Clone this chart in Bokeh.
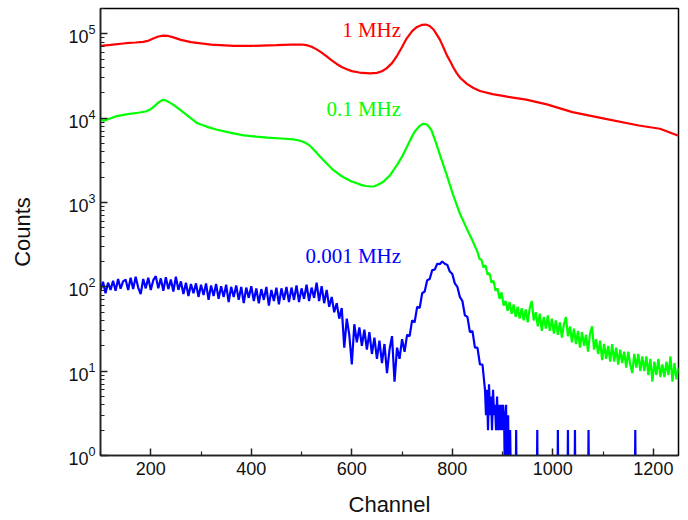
from bokeh.plotting import figure
from bokeh.models import FixedTicker, ColumnDataSource
from bokeh.core.properties import value
from bokeh.embed import file_html
from bokeh.resources import INLINE

# ---------------- data ----------------
x_ticks = [200, 400, 600, 800, 1000, 1200]
x_minor = [100, 300, 500, 700, 900, 1100]
y_ticks = [1, 10, 100, 1000, 10000, 100000]

red_ch = [100, 120, 150, 170, 185, 195, 205, 215, 225, 235, 245, 260, 280, 300, 320,
          365, 400, 450, 480, 500, 510, 520, 530, 540, 550, 560, 570, 580, 590, 600,
          615, 636, 650, 660, 669, 680, 690, 700, 709, 720, 729, 740, 747, 755, 763,
          770, 775, 782, 789, 796, 802, 809, 816, 829, 842, 855, 880, 909, 947, 988,
          1039, 1105, 1171, 1213, 1250]
red_counts = [72000, 74000, 77500, 79000, 80500, 83000, 88000, 93000, 95500, 94500,
              91000, 85000, 80000, 77000, 74500, 72000, 72000, 73500, 74500, 74800,
              73500, 70500, 65500, 60000, 54000, 48500, 44000, 40500, 38000, 36200,
              34800, 34000, 34500, 36000, 39000, 45000, 55000, 70000, 88000, 108000,
              120000, 128000, 129000, 124000, 112000, 96000, 86000, 70000, 56000,
              47000, 40000, 34000, 30000, 25500, 22800, 21000, 19300, 18000, 16600,
              14600, 11800, 9800, 8200, 7500, 6200]

green_ch = [100, 105, 115, 130, 154, 175, 190, 200, 208, 215, 220, 225, 230, 238, 248,
            260, 275, 293, 312, 332, 360, 385, 410, 432, 460, 484, 497, 507, 515, 525,
            537, 550, 564, 580, 592, 600, 610, 620, 628, 636, 644, 650, 662, 676, 690,
            700, 709, 718, 725, 734, 742, 750, 758, 768, 778, 788, 801, 815, 828, 840,
            850, 854, 858, 862, 866, 870, 874, 878, 882, 886, 890, 894, 898, 902, 906,
            910, 914, 918, 922, 926, 930, 934, 938, 942, 946, 950, 954, 958, 962, 966,
            970, 974, 978, 982, 986, 990, 994, 998, 1002, 1006, 1010, 1014, 1018, 1022,
            1026, 1030, 1034, 1038, 1042, 1046, 1050, 1054, 1058, 1062, 1066, 1070,
            1074, 1078, 1082, 1086, 1090, 1094, 1098, 1102, 1106, 1110, 1114, 1118,
            1122, 1126, 1130, 1134, 1138, 1142, 1146, 1150, 1154, 1158, 1162, 1166,
            1170, 1174, 1178, 1182, 1186, 1190, 1194, 1198, 1202, 1206, 1210, 1214,
            1218, 1222, 1226, 1230, 1234, 1238, 1242, 1246, 1250]
green_counts = [10000, 9300, 9700, 10500, 11200, 11600, 12000, 12800, 14000, 15300,
                16100, 16500, 16200, 15300, 14000, 12400, 10500, 8700, 7900, 7300,
                6700, 6250, 6050, 5900, 5750, 5600, 5400, 5150, 4800, 4200,
                3500, 2900, 2400, 2050, 1880, 1780, 1690, 1610, 1570, 1550, 1560, 1600,
                1750, 2100, 2800, 3500, 4500, 5800, 6900, 8000, 8600, 8400, 7300, 5000,
                3300, 2200, 1260, 740, 500, 355,
                260, 215, 210, 170, 180, 140, 145, 112, 118, 90, 96, 72, 86, 60, 68,
                52, 66, 48, 62, 44, 58, 42, 56, 40, 54, 38, 56, 68, 40, 50,
                34, 48, 30, 44, 32, 46, 30, 42, 28, 40, 27, 38, 25, 36,
                44, 26, 34, 22, 32, 21, 30, 19, 29, 20, 27, 17,
                28, 34, 18, 24, 16, 23, 13.5, 21, 14, 20, 13, 21,
                13, 19, 12, 18, 12.5, 17, 11, 17, 12, 9.5, 16, 11,
                16, 10, 15, 10, 15, 9, 14, 7.5, 13, 9, 14, 8.5,
                12, 8.5, 13, 9, 15, 7.5, 12.5, 8, 11]

blue_ch = [100, 105, 110, 115, 120, 125, 130, 135, 140, 145, 150, 155, 160, 165, 170,
           175, 180, 185, 190, 195, 200, 205, 210, 215, 220, 225, 230, 235, 240, 245,
           250, 255, 260, 265, 270, 275, 280, 285, 290, 295, 300, 305, 310, 315, 320,
           325, 330, 335, 340, 345, 350, 355, 360, 365, 370, 375, 380, 385, 390, 395,
           400, 405, 410, 415, 420, 425, 430, 435, 440, 445, 450, 455, 460, 465, 470,
           475, 480, 485, 490, 495, 500, 505, 510, 515, 520, 525, 530, 535, 540, 545,
           550, 555, 560, 565, 570, 575, 580, 585, 590, 595, 600, 605, 610, 615, 620,
           625, 630, 635, 640, 645, 650, 655, 660, 665, 670, 675, 680, 685, 690, 695,
           700, 705, 710, 715, 720, 725, 730, 735, 740, 745, 750, 755, 760, 765, 770,
           775, 780, 785, 790, 795, 800, 805, 810, 815, 820, 825, 830, 835, 840, 845,
           850, 855, 860, 865,
           867, 869, 871, 873, 875, 877, 879, 881, 883, 885, 887, 889, 891, 893, 895,
           897, 899, 901, 903, 905, 907, 909, 911, 913, 915, 917,
           926, 927, 928, 968, 969, 970, 1009, 1010, 1011, 1029, 1030, 1031,
           1043, 1044, 1045, 1070, 1071, 1072, 1163, 1164, 1165, 1250]
blue_counts = [90, 115, 84, 112, 92, 118, 90, 124, 95, 116, 122, 92, 128, 94, 132,
               98, 82, 124, 96, 128, 92, 120, 134, 96, 126, 90, 130, 94, 122, 88,
               132, 92, 116, 82, 112, 78, 108, 84, 110, 76, 106, 80, 110, 70, 104,
               78, 108, 72, 102, 76, 106, 66, 100, 76, 104, 70, 100, 64, 98, 74,
               102, 68, 96, 64, 94, 70, 100, 60, 92, 68, 98, 62, 96, 70, 100,
               66, 98, 70, 104, 66, 96, 72, 106, 68, 98, 74, 112, 68, 102, 64,
               92, 58, 76, 50, 64, 42, 56, 19, 42, 27, 12, 36, 22, 33, 20,
               31, 18, 29, 16, 25, 14, 23, 12.5, 21, 9.5, 18, 26, 7.5, 19, 14,
               24, 17, 27, 26, 40, 38, 58, 56, 84, 88, 120, 124, 158, 160, 188,
               186, 200, 188, 182, 152, 142, 110, 100, 76, 68, 46, 44, 29, 30, 19,
               19, 12, 12, 6,
               3, 6, 2, 7, 3, 5, 2, 6, 3, 4, 2, 5, 2, 4, 2,
               4, 2, 4, 3, 0.3, 4, 0.3, 3, 0.3, 2, 0.3,
               0.3, 2, 0.3, 0.3, 2, 0.3, 0.3, 2, 0.3, 0.3, 2, 0.3,
               0.3, 2, 0.3, 0.3, 2, 0.3, 0.3, 2, 0.3, 0.3]

label_text = ["1 MHz", "0.1 MHz", "0.001 MHz"]
label_x = [698, 698, 698]
label_y = [112000, 12700, 230]
label_color = ["#ff0000", "#00ff00", "#0000ff"]

# ---------------- figure ----------------
p = figure(frame_width=578, frame_height=447, y_axis_type="log",
           x_range=(100, 1250), y_range=(1, 2e5),
           output_backend="svg", toolbar_location=None,
           min_border_left=100, min_border_right=2, min_border_top=8,
           min_border_bottom=57, background_fill_color="white",
           border_fill_color="white")

p.grid.visible = False
p.outline_line_color = "black"
p.outline_line_width = 1.5

p.line(red_ch, red_counts, line_color="#ff0000", line_width=2.2)
p.line(green_ch, green_counts, line_color="#00ff00", line_width=2.2)
p.line(blue_ch, blue_counts, line_color="#0000ff", line_width=2.2)

src = ColumnDataSource(dict(x=label_x, y=label_y, t=label_text, c=label_color))
p.text(x="x", y="y", text="t", text_color="c", source=src,
       text_font=value("Liberation Serif"), text_font_size=value("21px"),
       text_align="right", text_baseline="alphabetic")

y_minor = [m * 10 ** e for e in range(0, 6) for m in range(2, 10) if m * 10 ** e <= 2e5]
p.xaxis.ticker = FixedTicker(ticks=x_ticks, minor_ticks=x_minor)
p.yaxis.ticker = FixedTicker(ticks=y_ticks, minor_ticks=y_minor)

for ax in (p.xaxis[0], p.yaxis[0]):
    ax.major_tick_in = 7
    ax.major_tick_out = 0
    ax.minor_tick_in = 4
    ax.minor_tick_out = 0
    ax.axis_line_color = "#222222"
    ax.axis_line_width = 1.5
    ax.major_tick_line_color = "#222222"
    ax.major_tick_line_width = 1.5
    ax.minor_tick_line_color = "#222222"
    ax.minor_tick_line_width = 1.2
    ax.major_label_text_font = "Liberation Sans"
    ax.major_label_text_font_size = "18px"
    ax.major_label_text_color = "#111111"
    ax.axis_label_text_font = "Liberation Sans"
    ax.axis_label_text_font_size = "22px"
    ax.axis_label_text_font_style = "normal"
    ax.axis_label_text_color = "#111111"

p.xaxis.axis_label = "Channel"
p.yaxis.axis_label = "Counts"
p.xaxis.major_label_standoff = 6
p.yaxis.major_label_standoff = 5
p.xaxis.axis_label_standoff = 14
p.yaxis.axis_label_standoff = 30

open("out.html", "w").write(file_html(p, INLINE))
